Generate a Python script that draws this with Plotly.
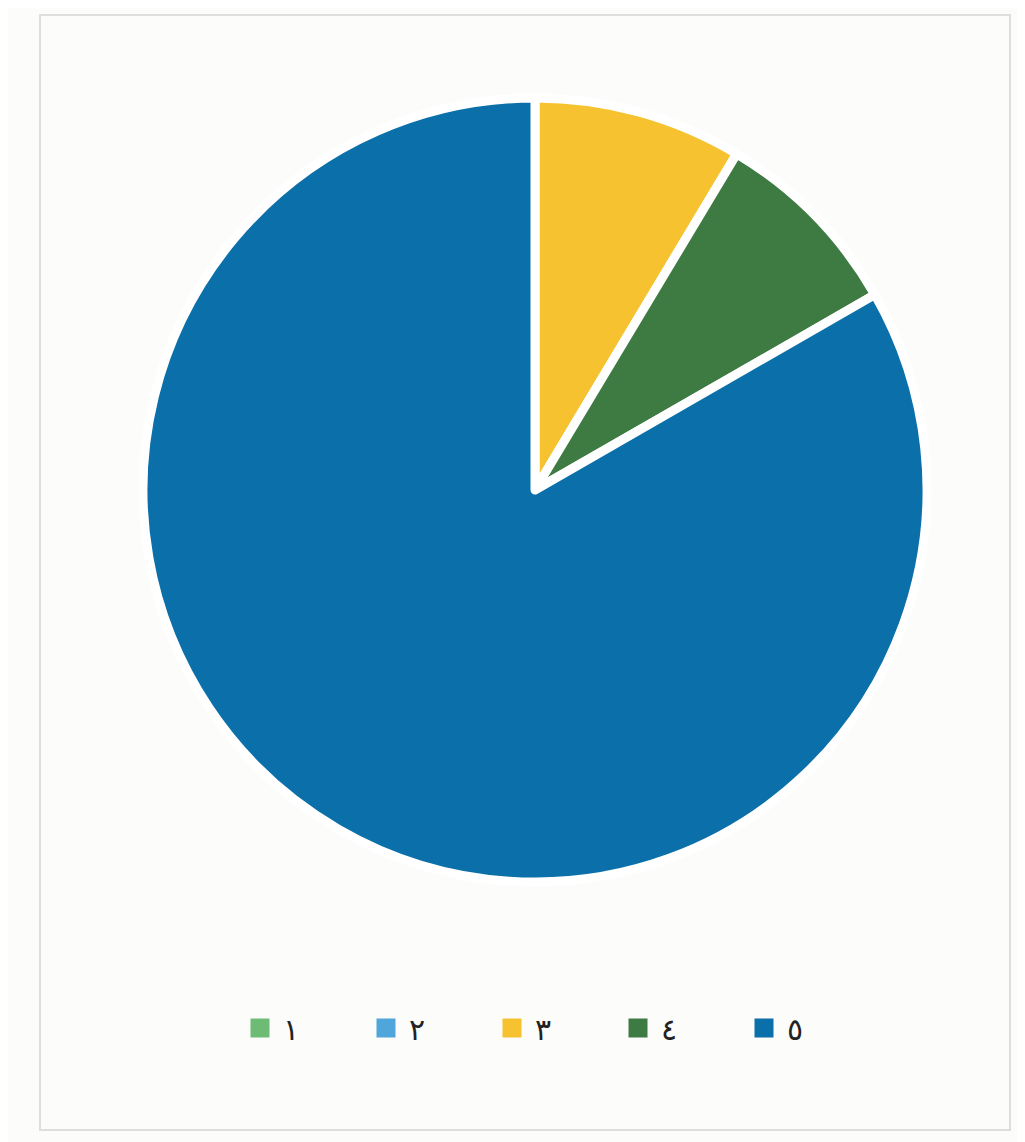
import plotly.graph_objects as go

labels = ["١", "٢", "٣", "٤", "٥"]
values = [0, 0, 8.6, 8.1, 83.3]
colors = ["#6dbb75", "#4ea6da", "#f6c22f", "#3e7b43", "#0b70a9"]

W, H = 1025, 1142
off = 8  # page body margin
cx, cy, r = 535 - off, 490 - off, 392

fig = go.Figure()
fig.add_trace(go.Pie(
    labels=labels,
    values=values,
    sort=False,
    direction="clockwise",
    rotation=0,
    textinfo="none",
    hoverinfo="label+value",
    showlegend=False,
    marker=dict(colors=colors, line=dict(color="#ffffff", width=9)),
    domain=dict(x=[(cx - r) / W, (cx + r) / W], y=[1 - (cy + r) / H, 1 - (cy - r) / H]),
))

# legend entries (one per category, same colours as the slices)
for lab, col in zip(labels, colors):
    fig.add_trace(go.Scatter(
        x=[None], y=[None], mode="markers", name=lab,
        marker=dict(symbol="square", size=16, color=col, line=dict(color=col, width=3)),
        hoverinfo="skip",
    ))

fig.update_layout(
    width=W, height=H,
    margin=dict(l=0, r=0, t=0, b=0),
    paper_bgcolor="#fcfcfb",
    plot_bgcolor="rgba(0,0,0,0)",
    font=dict(family="DejaVu Sans", color="#2a2a2a"),
    xaxis=dict(visible=False),
    yaxis=dict(visible=False),
    legend=dict(
        orientation="h",
        x=(552 - off) / W, xanchor="center",
        y=1 - (1028 - off) / H, yanchor="middle",
        font=dict(size=30, family="DejaVu Sans", color="#222222"),
        entrywidth=75, entrywidthmode="pixels",
        itemwidth=36,
        itemsizing="trace",
        bgcolor="rgba(0,0,0,0)",
        traceorder="normal",
    ),
    shapes=[dict(type="rect", xref="paper", yref="paper",
                 x0=(40 - off) / W, x1=(1010 - off) / W,
                 y0=1 - (1130 - off) / H, y1=1 - (15 - off) / H,
                 line=dict(color="#dedede", width=2), fillcolor="rgba(0,0,0,0)")],
)

fig.write_html("out.html")
